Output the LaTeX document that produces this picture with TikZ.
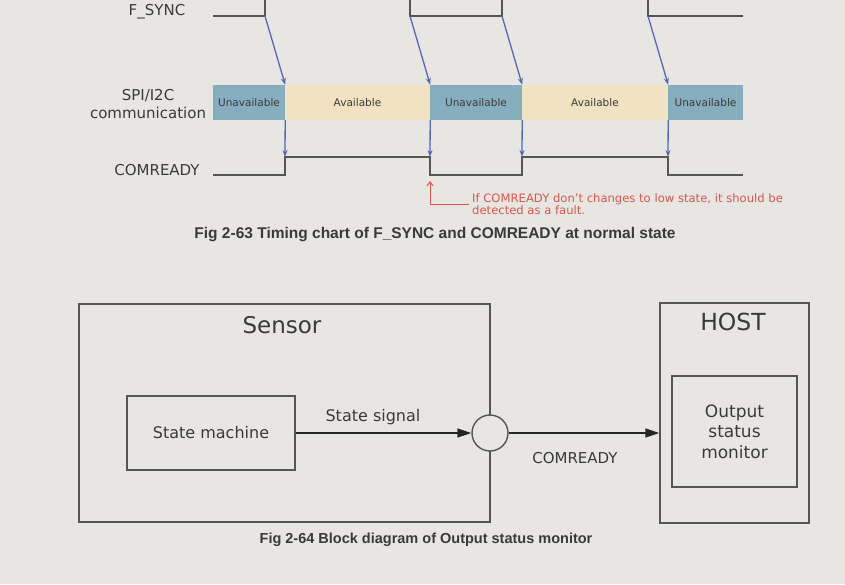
\documentclass[tikz,border=0pt]{standalone}
\usepackage{fontspec}
\setmainfont{DejaVu Sans}
\newfontfamily\capfont{Liberation Sans}
\usepackage{tikz}
\usetikzlibrary{arrows.meta,positioning,calc}
\definecolor{osmBg}{HTML}{E8E6E2}
\definecolor{osmLine}{HTML}{555555}
\definecolor{osmText}{HTML}{3A3A3A}
\definecolor{osmBlue}{HTML}{5468B8}
\definecolor{osmBusy}{HTML}{86AEBF}
\definecolor{osmFree}{HTML}{F1E2C2}
\definecolor{osmRed}{HTML}{D8574E}
\tikzset{
  tcwave/.style={draw=osmLine,line width=1.6pt},
  tcseg/.style={inner sep=0pt,minimum height=35pt,font=\fontsize{10.5}{12}\selectfont,text=osmText},
  tcbusy/.style={tcseg,fill=osmBusy},
  tcfree/.style={tcseg,fill=osmFree},
  tcsig/.style={font=\fontsize{15}{18}\selectfont,text=osmText,align=center,inner sep=0pt},
  tcflow/.style={-{Stealth[length=7pt,width=5pt]},draw=osmBlue,line width=1.3pt},
  tcnote/.style={-{Straight Barb[length=4pt,width=6pt]},draw=osmRed,line width=1pt},
  tcnotetxt/.style={font=\fontsize{11.6}{12.5}\selectfont,text=osmRed,align=left,inner sep=0pt},
  osmcap/.style={font=\capfont\bfseries\fontsize{15.5}{18}\selectfont,text=osmText,inner sep=0pt},
  bdbox/.style={draw=osmLine,line width=1.4pt,inner sep=0pt,text=osmText,align=center},
  bdlbl/.style={text=osmText,inner sep=0pt,align=center},
  bdflow/.style={-{Triangle[length=14pt,width=9pt]},draw=black!85,line width=1.5pt},
}

\begin{document}
\begin{tikzpicture}[x=1pt,y=-1pt]
  \fill[osmBg] (0,0) rectangle (845,584);
  \useasboundingbox (0,0) rectangle (845,584);

  % Signal names.
  \node[tcsig] (fsync) at (157,12)  {F\_SYNC};
  \node[tcsig] (spi)   at (148,104) {SPI/I2C\\communication};
  \node[tcsig] (crdy)  at (157,170) {COMREADY};

  % Bus state row.
  \node[tcbusy,minimum width=72pt]  (u1) at (249,102.5)   {Unavailable};
  \node[tcfree,minimum width=145pt] (a1) at (357.5,102.5) {Available};
  \node[tcbusy,minimum width=92pt]  (u2) at (476,102.5)   {Unavailable};
  \node[tcfree,minimum width=146pt] (a2) at (595,102.5)   {Available};
  \node[tcbusy,minimum width=75pt]  (u3) at (705.5,102.5) {Unavailable};

  % F_SYNC edges.
  \coordinate (f1) at (265,16);
  \coordinate (f2) at (410,16);
  \coordinate (f3) at (502,16);
  \coordinate (f4) at (648,16);
  \draw[tcwave] (213,16) -- (f1) -- (265,0);
  \draw[tcwave] (410,0) -- (f2) -- (f3) -- (502,0);
  \draw[tcwave] (648,0) -- (f4) -- (743,16);

  % COMREADY levels.
  \coordinate (c1) at (285,157);
  \coordinate (c2) at (430,157);
  \coordinate (c3) at (522,157);
  \coordinate (c4) at (668,157);
  \draw[tcwave] (213,175) -| (c1) -| (430,175) -| (c3) -| (668,175) -- (743,175);

  \draw[tcflow] (f1) -- (u1.north east);
  \draw[tcflow] (f2) -- (a1.north east);
  \draw[tcflow] (f3) -- (u2.north east);
  \draw[tcflow] (f4) -- (a2.north east);
  \draw[tcflow] (u1.south east) -- (c1);
  \draw[tcflow] (a1.south east) -- (c2);
  \draw[tcflow] (u2.south east) -- (c3);
  \draw[tcflow] (a2.south east) -- (c4);

  % Fault note.
  \node[tcnotetxt,anchor=west] (note) at (472,204)
        {If COMREADY don't changes to low state, it should be\\detected as a fault.};
  \coordinate (drop) at (430,181);
  \draw[tcnote] ([xshift=-3pt]note.west) -| (drop);

  \node[osmcap] (cap63) at (435,235) {Fig 2-63 Timing chart of F\_SYNC and COMREADY at normal state};

  % Block diagram.
  \node[bdbox,minimum width=411pt,minimum height=218pt] (sensor) at (284.5,413) {};
  \node[bdlbl,font=\fontsize{23}{26}\selectfont] (sensorlbl) at (282,325) {Sensor};
  \node[bdbox,minimum width=168pt,minimum height=74pt,font=\fontsize{16}{19}\selectfont] (sm) at (211,433) {State machine};
  \node[bdbox,circle,fill=osmBg,minimum size=36pt] (join) at (490,433) {};

  \node[bdbox,minimum width=149pt,minimum height=220pt] (host) at (734.5,413) {};
  \node[bdlbl,font=\fontsize{23.5}{26}\selectfont] (hostlbl) at (733,322) {HOST};
  \node[bdbox,minimum width=125pt,minimum height=111pt,font=\fontsize{17}{20.5}\selectfont] (mon) at (734.5,431.5) {Output\\status\\monitor};

  \draw[bdflow] (sm.east) -- node[bdlbl,above=7pt,pos=0.44,font=\fontsize{16}{19}\selectfont]{State signal} (join.west);
  \draw[bdflow] (join.east) -- node[bdlbl,below=19pt,pos=0.44,font=\fontsize{15}{18}\selectfont]{COMREADY} (join.east -| host.west);

  \node[osmcap,font=\capfont\bfseries\fontsize{14.5}{17}\selectfont] (cap64) at (426,540) {Fig 2-64 Block diagram of Output status monitor};
\end{tikzpicture}
\end{document}
